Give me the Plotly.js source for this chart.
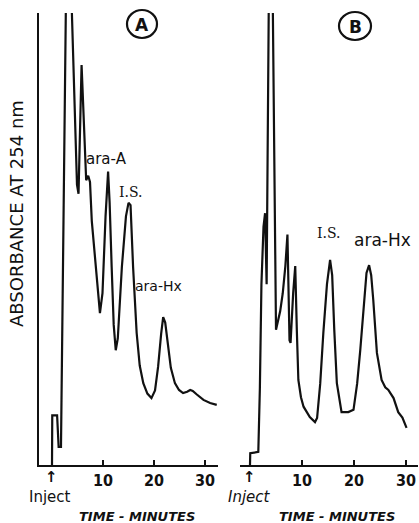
<!DOCTYPE html>
<html><head><meta charset="utf-8">
<script src="https://cdn.plot.ly/plotly-3.0.1.min.js"></script>
<style>html,body{margin:0;padding:0;background:#fff}#chart{width:419px;height:523px}</style>
</head><body><div id="chart"></div>
<script>
// Chromatogram A (time in minutes, absorbance in arbitrary units, 0-100 = full scale)
var timeA = [0, 0.05, 1.0, 1.3, 1.76, 2.75, 3.2, 3.9, 4.9, 5.2, 5.5, 5.8, 6.1, 6.7, 7.1, 7.45, 7.8, 8.6, 9.4, 9.9, 10.5, 11.0, 11.3, 11.7, 12.1, 12.5, 12.9, 13.7, 14.5, 15.0, 15.4, 15.9, 16.6, 17.2, 17.9, 18.7, 19.5, 20.2, 20.8, 21.4, 21.8, 22.2, 22.7, 23.3, 24.1, 24.9, 25.7, 26.5, 27.1, 27.6, 28.4, 29.7, 31.0, 32.3];
var absA  = [0, 11, 11, 4, 4, 100, 150, 100, 62, 60, 78, 88.5, 80, 63, 64, 62.6, 54, 44, 33.6, 38, 55, 64.9, 58, 43.8, 31, 25.4, 28, 43.8, 55, 58, 57.5, 43.8, 29.2, 22, 18.1, 15.8, 14.8, 16.5, 21.7, 29, 32.7, 31.5, 27, 21.5, 18.1, 16.6, 15.9, 16.2, 16.6, 16.4, 15.6, 14.4, 13.7, 13.3];
// Chromatogram B
var timeB = [0, 0.05, 1.6, 1.9, 2.2, 2.6, 2.9, 3.2, 3.6, 4.0, 4.4, 5.0, 5.8, 6.3, 6.8, 7.2, 7.6, 7.8, 8.3, 8.7, 9.0, 9.3, 9.8, 10.3, 11.5, 12.5, 12.9, 13.5, 14.1, 14.8, 15.4, 15.8, 16.2, 16.7, 17.6, 18.9, 19.9, 20.6, 21.2, 21.9, 22.4, 22.9, 23.3, 23.7, 24.4, 25.3, 26.0, 26.6, 27.6, 28.5, 29.3, 30.1];
var absB  = [0, 2.6, 2.9, 17, 40, 52.7, 55.7, 40, 100, 150, 100, 29.9, 34, 38, 44, 51, 27.6, 27, 38, 44, 30, 18.8, 15, 12.9, 10.6, 9.5, 10.4, 18, 29.2, 40, 45.4, 42, 30, 18.1, 11.7, 11.7, 12.2, 18, 25.4, 36, 42.5, 44.2, 42, 36.5, 24.8, 18.8, 17.2, 16.6, 14.8, 11.7, 10.5, 8.2];
var tickVals = [0, 10, 20, 30];
var tickText = ['', '10', '20', '30'];
var peakLabelsA = ['ara-A', 'I.S.', 'ara-Hx'];
var peakLabelsB = ['I.S.', 'ara-Hx'];

var ink = '#111';
var traces = [
  {x: timeA, y: absA, type: 'scatter', mode: 'lines', line: {color: ink, width: 2.2}, xaxis: 'x', yaxis: 'y', hoverinfo: 'skip'},
  {x: timeB, y: absB, type: 'scatter', mode: 'lines', line: {color: ink, width: 2.2}, xaxis: 'x2', yaxis: 'y2', hoverinfo: 'skip'}
];
var xTick = {family: 'DejaVu Sans Condensed, DejaVu Sans', size: 16, color: ink, weight: 'bold'};
function xax(dom, rng) {
  return {domain: dom, range: rng, showgrid: false, zeroline: false, showline: true, linecolor: ink, linewidth: 2,
    ticks: 'inside', ticklen: 5, tickwidth: 2, tickcolor: ink, tickvals: tickVals, ticktext: tickText,
    tickfont: xTick, fixedrange: true};
}
function ann(text, px, py, font, extra) {
  var a = {text: text, xref: 'paper', yref: 'paper', x: px/419, y: 1 - py/523, xanchor: 'center', yanchor: 'middle', showarrow: false, font: font};
  if (extra) for (var k in extra) a[k] = extra[k];
  return a;
}
var yDom = [1 - 465/523, 1 - 13/523];
var sans = function (s) { return {family: 'DejaVu Sans', size: s, color: ink}; };
var serif = function (s) { return {family: 'DejaVu Serif', size: s, color: ink}; };
var layout = {
  width: 419, height: 523, margin: {l: 0, r: 0, t: 0, b: 0},
  paper_bgcolor: '#fff', plot_bgcolor: '#fff', showlegend: false,
  xaxis: xax([39/419, 218/419], [-2.55, 32.55]),
  xaxis2: xax([240/419, 418/419], [-1.92, 32.3]),
  yaxis: {domain: yDom, range: [0, 100], anchor: 'x', showgrid: false, zeroline: false, showline: true, linecolor: ink, linewidth: 2, showticklabels: false, ticks: '', fixedrange: true},
  yaxis2: {domain: yDom, range: [0, 100], anchor: 'x2', showgrid: false, zeroline: false, showline: false, showticklabels: false, ticks: '', fixedrange: true},
  shapes: [
    {type: 'circle', xref: 'paper', yref: 'paper', x0: 127/419, x1: 157/419, y0: 1 - 38/523, y1: 1 - 10/523, line: {color: ink, width: 2.2}},
    {type: 'circle', xref: 'paper', yref: 'paper', x0: 339/419, x1: 371/419, y0: 1 - 40/523, y1: 1 - 12/523, line: {color: ink, width: 2.2}}
  ],
  annotations: [
    ann('<b>A</b>', 142, 25, sans(17)),
    ann('<b>B</b>', 355, 27, sans(17)),
    ann('ABSORBANCE AT 254 nm', 17, 214, sans(18), {textangle: -90}),
    ann(peakLabelsA[0], 107, 159, sans(15)),
    ann(peakLabelsA[1], 131, 192, serif(14)),
    ann(peakLabelsA[2], 158, 286, sans(14)),
    ann(peakLabelsB[0], 329, 233, serif(14)),
    ann(peakLabelsB[1], 382, 240, sans(17)),
    ann('<b>\u2191</b>', 51, 477, sans(15)),
    ann('<b>\u2191</b>', 249, 477, sans(15)),
    ann('Inject', 50, 497, sans(15)),
    ann('<i>Inject</i>', 249, 497, sans(15)),
    ann('<b><i>TIME - MINUTES</i></b>', 137, 516, sans(13)),
    ann('<b><i>TIME - MINUTES</i></b>', 337, 516, sans(13))
  ]
};
Plotly.newPlot('chart', traces, layout, {displayModeBar: false, staticPlot: true});
</script></body></html>
